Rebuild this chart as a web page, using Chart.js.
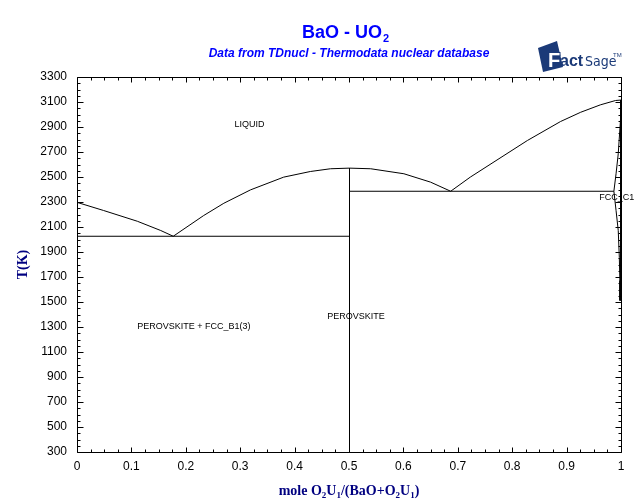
<!DOCTYPE html>
<html>
<head>
<meta charset="utf-8">
<script src="https://cdn.jsdelivr.net/npm/chart.js@4.4.1/dist/chart.umd.min.js"></script>
<style>
  html, body { margin: 0; padding: 0; background: #fff; }
  #chart { display: block; }
</style>
</head>
<body>
<canvas id="chart" width="640" height="504"></canvas>
<script>
// BaO - UO2 phase diagram (FactSage style)

// Liquidus, BaO side down to first eutectic
const liqLeftX = [0, 0.048, 0.11, 0.153, 0.176];
const liqLeftT = [2300, 2236, 2150, 2076, 2030];

// Liquidus, eutectic up to perovskite congruent melting
const liqPerovLeftX = [0.176, 0.232, 0.269, 0.318, 0.379, 0.428, 0.465, 0.5];
const liqPerovLeftT = [2030, 2196, 2294, 2401, 2503, 2548, 2570, 2575];

// Liquidus, perovskite down to second eutectic
const liqPerovRightX = [0.5, 0.539, 0.6, 0.649, 0.686];
const liqPerovRightT = [2575, 2570, 2530, 2463, 2390];

// Liquidus, second eutectic up to UO2 melting
const liqRightX = [0.686, 0.722, 0.784, 0.827, 0.888, 0.925, 0.961, 0.989, 1];
const liqRightT = [2390, 2503, 2676, 2796, 2948, 3022, 3081, 3116, 3120];

// FCC_C1 solidus / solvus near pure UO2
const fccBoundX = [1, 0.998, 0.994, 0.990, 0.986, 0.990, 0.994, 0.996, 0.997, 0.997];
const fccBoundT = [3120, 2950, 2690, 2530, 2390, 2236, 2076, 1862, 1676, 1516];
const fccEdgeX = [0.9985, 0.9985];
const fccEdgeT = [3120, 1516];

// invariant lines
const eutecticLeftX = [0, 0.5];
const eutecticLeftT = [2030, 2030];
const eutecticRightX = [0.5, 0.986];
const eutecticRightT = [2390, 2390];
const perovskiteX = [0.5, 0.5];
const perovskiteT = [2575, 300];

// axes
const xMin = 0, xMax = 1, xStep = 0.1, xMinor = 0.025;
const yMin = 300, yMax = 3300, yStep = 200, yMinor = 50;

// phase region labels (data coordinates)
const phaseLabels = [
    { text: 'LIQUID', x: 0.317, t: 2920 },
    { text: 'PEROVSKITE + FCC_B1(3)', x: 0.215, t: 1300 },
    { text: 'PEROVSKITE', x: 0.513, t: 1385 },
    { text: 'FCC_C1', x: 0.992, t: 2332 }
];

function toPoints(xs, ts) {
    return xs.map((x, i) => ({ x: x, y: ts[i] }));
}

function lineSet(xs, ts) {
    return {
        data: toPoints(xs, ts),
        showLine: true,
        borderColor: '#000',
        borderWidth: 1,
        pointRadius: 0,
        tension: 0,
        clip: 4
    };
}

// shift the curves half a pixel so 1px lines stay crisp
const crispLines = {
    id: 'crispLines',
    beforeDatasetsDraw(chart) {
        chart.ctx.save();
        chart.ctx.translate(0.5, 0.5);
    },
    afterDatasetsDraw(chart) {
        chart.ctx.restore();
    }
};

// frame, inward ticks, titles and labels
const decorations = {
    id: 'decorations',
    afterDraw(chart) {
        const ctx = chart.ctx;
        const a = chart.chartArea;
        const xs = chart.scales.x;
        const ys = chart.scales.y;
        ctx.save();
        ctx.strokeStyle = '#000';
        ctx.lineWidth = 1;

        // frame
        const L = Math.round(a.left) + 0.5, R = Math.round(a.right) + 0.5;
        const T = Math.round(a.top) + 0.5, B = Math.round(a.bottom) + 0.5;
        ctx.beginPath();
        ctx.rect(L, T, R - L, B - T);
        ctx.stroke();

        // ticks
        ctx.beginPath();
        const nx = Math.round((xMax - xMin) / xMinor);
        for (let i = 0; i <= nx; i++) {
            const px = Math.round(xs.getPixelForValue(xMin + i * xMinor)) + 0.5;
            const len = (i % 4 === 0) ? 5 : 3;
            ctx.moveTo(px, B); ctx.lineTo(px, B - len);
            ctx.moveTo(px, T); ctx.lineTo(px, T + len);
        }
        const ny = Math.round((yMax - yMin) / yMinor);
        for (let i = 0; i <= ny; i++) {
            const py = Math.round(ys.getPixelForValue(yMin + i * yMinor)) + 0.5;
            const len = (i % 4 === 0) ? 6 : 3;
            ctx.moveTo(L, py); ctx.lineTo(L + len, py);
            ctx.moveTo(R, py); ctx.lineTo(R - len, py);
        }
        ctx.stroke();

        // phase labels
        ctx.fillStyle = '#000';
        ctx.font = '9px Arial, "Liberation Sans", sans-serif';
        ctx.textAlign = 'center';
        ctx.textBaseline = 'middle';
        phaseLabels.forEach(l => {
            ctx.fillText(l.text, xs.getPixelForValue(l.x), ys.getPixelForValue(l.t));
        });

        // main title with subscript
        ctx.textAlign = 'left';
        ctx.textBaseline = 'alphabetic';
        ctx.fillStyle = '#0000ff';
        ctx.font = 'bold 18px Arial, "Liberation Sans", sans-serif';
        const t1 = 'BaO - UO';
        const w1 = ctx.measureText(t1).width;
        ctx.font = 'bold 11px Arial, "Liberation Sans", sans-serif';
        const w2 = ctx.measureText('2').width;
        let tx = 345 - (w1 + w2) / 2;
        ctx.font = 'bold 18px Arial, "Liberation Sans", sans-serif';
        ctx.fillText(t1, tx, 38);
        ctx.font = 'bold 11px Arial, "Liberation Sans", sans-serif';
        ctx.fillText('2', tx + w1 + 1, 42);

        // subtitle
        ctx.font = 'italic bold 12px Arial, "Liberation Sans", sans-serif';
        ctx.textAlign = 'center';
        ctx.fillText('Data from TDnucl - Thermodata nuclear database', 349, 57);

        // axis titles
        ctx.fillStyle = '#000080';
        drawRich(ctx, [['mole O', 0], ['2', 1], ['U', 0], ['1', 1], ['/(BaO+O', 0], ['2', 1], ['U', 0], ['1', 1], [')', 0]],
            (a.left + a.right) / 2, 495);
        ctx.save();
        ctx.translate(27, (a.top + a.bottom) / 2);
        ctx.rotate(-Math.PI / 2);
        ctx.font = 'bold 14px "Times New Roman", "Liberation Serif", serif';
        ctx.textAlign = 'center';
        ctx.fillText('T(K)', 0, 0);
        ctx.restore();

        // FactSage logo
        drawLogo(ctx);
        ctx.restore();
    }
};

function drawRich(ctx, parts, cx, baseY) {
    const big = 'bold 14px "Times New Roman", "Liberation Serif", serif';
    const small = 'bold 9px "Times New Roman", "Liberation Serif", serif';
    ctx.textAlign = 'left';
    let total = 0;
    parts.forEach(p => { ctx.font = p[1] ? small : big; total += ctx.measureText(p[0]).width; });
    let x = cx - total / 2;
    parts.forEach(p => {
        ctx.font = p[1] ? small : big;
        ctx.fillText(p[0], x, p[1] ? baseY + 3 : baseY);
        x += ctx.measureText(p[0]).width;
    });
}

function drawLogo(ctx) {
    const navy = '#1b3a78';
    ctx.save();
    ctx.fillStyle = navy;
    ctx.beginPath();
    ctx.moveTo(538, 48);
    ctx.lineTo(557, 41);
    ctx.lineTo(563, 67);
    ctx.lineTo(543, 72);
    ctx.closePath();
    ctx.fill();
    ctx.textAlign = 'left';
    ctx.textBaseline = 'alphabetic';
    ctx.font = 'bold 20px Arial, "Liberation Sans", sans-serif';
    ctx.lineWidth = 2;
    ctx.strokeStyle = navy;
    ctx.strokeText('F', 548, 67);
    ctx.fillStyle = '#ffffff';
    ctx.fillText('F', 548, 67);
    ctx.fillStyle = navy;
    ctx.font = 'bold 16px Arial, "Liberation Sans", sans-serif';
    ctx.fillText('act', 560, 66);
    ctx.font = '14px "Liberation Sans Narrow", "DejaVu Sans Condensed", sans-serif';
    ctx.fillText('Sage', 585, 66);
    ctx.font = '6px Arial, sans-serif';
    ctx.fillText('TM', 613, 57);
    ctx.restore();
}

const tickFont = { family: 'Arial, "Liberation Sans", sans-serif', size: 12 };

new Chart(document.getElementById('chart'), {
    type: 'scatter',
    data: {
        datasets: [
            lineSet(liqLeftX, liqLeftT),
            lineSet(liqPerovLeftX, liqPerovLeftT),
            lineSet(liqPerovRightX, liqPerovRightT),
            lineSet(liqRightX, liqRightT),
            lineSet(fccBoundX, fccBoundT),
            lineSet(fccEdgeX, fccEdgeT),
            lineSet(eutecticLeftX, eutecticLeftT),
            lineSet(eutecticRightX, eutecticRightT),
            lineSet(perovskiteX, perovskiteT)
        ]
    },
    options: {
        responsive: false,
        animation: false,
        devicePixelRatio: 1,
        layout: { padding: { top: 77, right: 19, left: 0, bottom: 0 } },
        plugins: {
            legend: { display: false },
            tooltip: { enabled: false }
        },
        scales: {
            x: {
                type: 'linear',
                min: xMin,
                max: xMax,
                grid: { display: false, drawTicks: false },
                border: { display: false },
                ticks: {
                    stepSize: xStep,
                    maxRotation: 0,
                    autoSkip: false,
                    padding: 7,
                    color: '#000',
                    font: tickFont,
                    callback: v => String(Math.round(v * 10) / 10)
                },
                afterFit: s => { s.height = 52; s.paddingLeft = 0; s.paddingRight = 0; }
            },
            y: {
                type: 'linear',
                min: yMin,
                max: yMax,
                grid: { display: false, drawTicks: false },
                border: { display: false },
                ticks: {
                    stepSize: yStep,
                    autoSkip: false,
                    padding: 10,
                    color: '#000',
                    font: tickFont,
                    callback: v => String(v)
                },
                afterFit: s => { s.width = 77; s.paddingTop = 0; s.paddingBottom = 0; }
            }
        }
    },
    plugins: [crispLines, decorations]
});
</script>
</body>
</html>
